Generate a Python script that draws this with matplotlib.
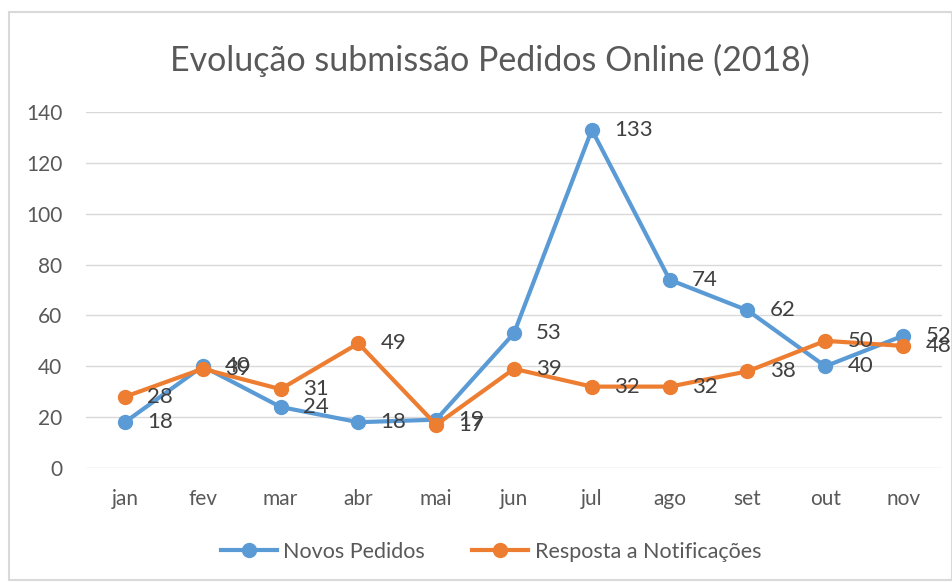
import matplotlib.pyplot as plt
from matplotlib.patches import Rectangle

meses = ['jan', 'fev', 'mar', 'abr', 'mai', 'jun', 'jul', 'ago', 'set', 'out', 'nov']
novos_pedidos = [18, 40, 24, 18, 19, 53, 133, 74, 62, 40, 52]
resposta_notif = [28, 39, 31, 49, 17, 39, 32, 32, 38, 50, 48]
y_ticks = [0, 20, 40, 60, 80, 100, 120, 140]

azul = '#5B9BD5'
laranja = '#ED7D31'

plt.rcParams['font.family'] = ['Lato', 'DejaVu Sans']

fig = plt.figure(figsize=(9.53, 5.82), dpi=100)
ax = fig.add_axes([0.0902, 0.1959, 0.8983, 0.6117])

x = list(range(len(meses)))
ax.plot(x, novos_pedidos, color=azul, lw=3, marker='o', ms=10, label='Novos Pedidos')
ax.plot(x, resposta_notif, color=laranja, lw=3, marker='o', ms=10, label='Resposta a Notificações')

# data labels to the right of each point
for serie in (novos_pedidos, resposta_notif):
    for i, v in enumerate(serie):
        ax.annotate(str(v), (i, v), xytext=(16, 0), textcoords='offset points',
                    ha='left', va='center', fontsize=16, color='#404040')

ax.set_xlim(-0.5, len(meses) - 0.5)
ax.set_ylim(0, 140)
ax.set_yticks(y_ticks)
ax.set_xticks(x)
ax.set_xticklabels(meses)
ax.grid(axis='y', color='#d9d9d9', lw=1)
ax.set_axisbelow(True)
for s in ax.spines.values():
    s.set_visible(False)
ax.tick_params(length=0, labelsize=15, labelcolor='#595959')
ax.tick_params(axis='y', pad=17)
ax.tick_params(axis='x', pad=15)

fig.text(0.514, 0.897, 'Evolução submissão Pedidos Online (2018)', ha='center', va='center',
         fontsize=24.5, color='#595959')

fig.legend(loc='center', bbox_to_anchor=(0.515, 0.052), ncol=2, frameon=False,
           fontsize=15.5, labelcolor='#595959', handlelength=2.6, columnspacing=2.2,
           handletextpad=0.3)

fig.patches.append(Rectangle((0.009, 0.004), 0.99, 0.975, transform=fig.transFigure,
                             fill=False, edgecolor='#d9d9d9', lw=1.5))

fig.savefig('out.png', dpi=100)
